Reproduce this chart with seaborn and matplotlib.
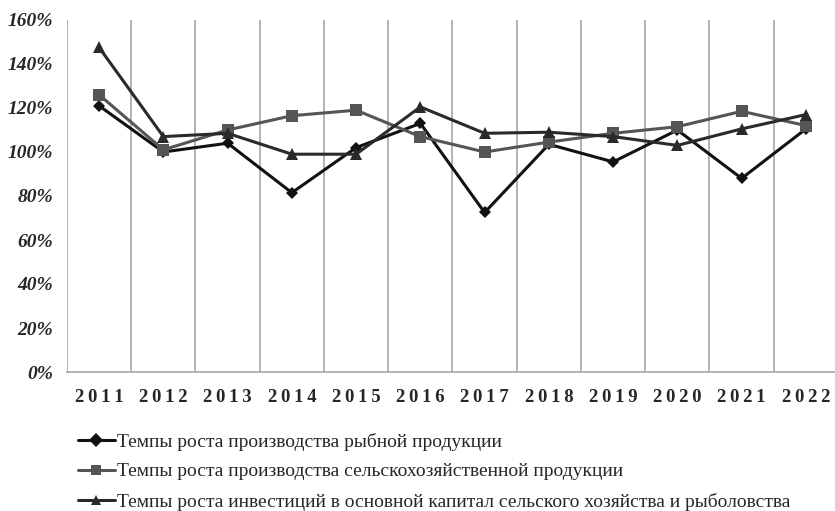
import pandas as pd
import matplotlib
matplotlib.use("Agg")
import matplotlib.pyplot as plt
import seaborn as sns

years = ["2011", "2012", "2013", "2014", "2015", "2016",
         "2017", "2018", "2019", "2020", "2021", "2022"]
fish = [121, 100, 104, 81.5, 102, 113, 72.5, 103.5, 95.5, 110, 88, 110.5]
agri = [126, 101, 110, 116.5, 119, 107, 100, 104.5, 108.5, 111.5, 118.5, 112]
invest = [147.5, 107, 108.5, 99, 99, 120.5, 108.5, 109, 107, 103, 110.5, 117]

names = ["Темпы роста производства рыбной продукции",
         "Темпы роста производства сельскохозяйственной продукции",
         "Темпы роста инвестиций в основной капитал сельского хозяйства и рыболовства"]

df = pd.DataFrame({
    "x": list(range(len(years))) * 3,
    "val": fish + agri + invest,
    "series": [names[0]] * 12 + [names[1]] * 12 + [names[2]] * 12,
})

sns.set_style("white")
plt.rcParams["font.family"] = ["Liberation Serif", "DejaVu Serif"]

fig = plt.figure(figsize=(8.35, 5.11), dpi=100)
ax = fig.add_axes([67 / 835, (511 - 372) / 511, (838 - 67) / 835, 352 / 511])

palette = {names[0]: "#111111", names[1]: "#555555", names[2]: "#2a2a2a"}
markers = {names[0]: "D", names[1]: "s", names[2]: "^"}
sizes = {names[0]: 6, names[1]: 9, names[2]: 9}

sns.lineplot(data=df, x="x", y="val", hue="series", style="series",
             palette=palette, markers=markers, dashes=False,
             linewidth=2.2, markersize=9, markeredgewidth=0, ax=ax)
for line, n in zip(ax.lines, names):
    line.set_markersize(sizes[n])

# category boundaries as vertical grid lines
for b in range(len(years) + 1):
    ax.axvline(b - 0.5, color="#a6a6a6", lw=1.2, zorder=0)

ax.set_xlim(-0.5, len(years) - 0.5)
ax.set_ylim(0, 160)
ax.set_yticks(range(0, 161, 20))
ax.set_yticklabels([f"{v}%" for v in range(0, 161, 20)],
                   fontsize=14, fontweight="bold", fontstyle="italic")
ax.set_xticks(range(len(years)))
ax.set_xticklabels(["\u2009".join(y) for y in years], fontsize=13.5, fontweight="bold")
ax.tick_params(axis="y", length=0, pad=10)
ax.tick_params(axis="x", length=0, pad=12)
ax.set_xlabel("")
ax.set_ylabel("")
for s in ["top", "right", "left"]:
    ax.spines[s].set_visible(False)
ax.spines["bottom"].set_color("#a6a6a6")
ax.spines["bottom"].set_linewidth(1.2)

handles, labels = ax.get_legend_handles_labels()
ax.legend_.remove()
fig.legend(handles, labels, loc="upper left", bbox_to_anchor=(70 / 835, 1 - 425 / 511),
           frameon=False, fontsize=14, handlelength=1.9, handletextpad=0.1,
           labelspacing=0.62, borderaxespad=0, markerscale=0.75)

fig.savefig("out.png", dpi=100)
